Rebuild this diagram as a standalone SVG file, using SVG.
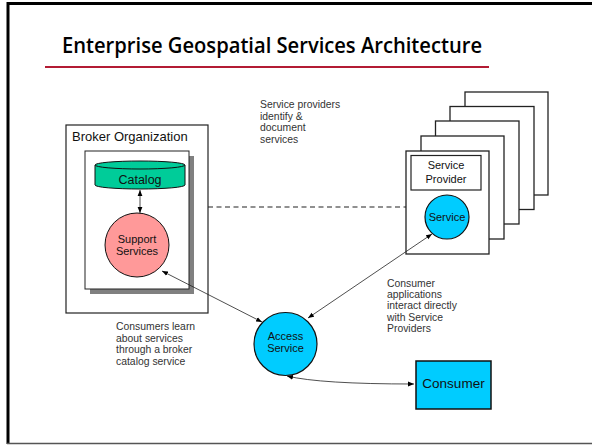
<svg xmlns="http://www.w3.org/2000/svg" width="592" height="445" viewBox="0 0 592 445">
<defs>
<marker id="ah" viewBox="0 0 10 10" refX="10" refY="5" markerWidth="6" markerHeight="6" orient="auto-start-reverse" markerUnits="userSpaceOnUse">
<path d="M0,1 L10,5 L0,9 z" fill="#000"/>
</marker>
<style>
text{font-family:"Liberation Sans",Arial,sans-serif;fill:#111}
.note{font-size:10.4px;fill:#333}
.lbl{font-size:11px;text-anchor:middle}
.page{fill:#fff;stroke:#222;stroke-width:1.3}
.conn{fill:none;stroke:#222;stroke-width:0.8;marker-start:url(#ah);marker-end:url(#ah)}
</style>
</defs>
<rect x="0" y="0" width="592" height="445" fill="#fff"/>
<g id="frame">
<line x1="8" y1="2" x2="8" y2="444" stroke="#000" stroke-width="3"/>
<line x1="7" y1="3.5" x2="592" y2="3.5" stroke="#000" stroke-width="3"/>
<line x1="7" y1="443.5" x2="592" y2="443.5" stroke="#555" stroke-width="1.5"/>
</g>
<g id="title">
<text x="62" y="53" font-size="21.5" textLength="420" lengthAdjust="spacingAndGlyphs" style="fill:#000;font-family:'Open Sans','Liberation Sans',sans-serif;font-weight:600">Enterprise Geospatial Services Architecture</text>
<line x1="45" y1="67" x2="489" y2="67" stroke="#b31b34" stroke-width="2"/>
</g>
<g id="broker">
<rect x="66" y="125" width="142" height="188" fill="#fff" stroke="#222" stroke-width="1.2"/>
<text x="72" y="141" font-size="13">Broker Organization</text>
<rect x="90" y="156" width="104" height="138" fill="#808080"/>
<rect x="85" y="151" width="104" height="138" fill="#fff" stroke="#222" stroke-width="1"/>
</g>
<g id="catalog">
<path d="M95,165 L95,185 A45,4 0 0 0 185,185 L185,165" fill="#00cc99" stroke="#111" stroke-width="1"/>
<ellipse cx="140" cy="165" rx="45" ry="4" fill="#00cc99" stroke="#111" stroke-width="1"/>
<text x="140" y="184" font-size="12.5" text-anchor="middle">Catalog</text>
</g>
<g id="support">
<circle cx="137" cy="245" r="32" fill="#ff9999" stroke="#111" stroke-width="1"/>
<text class="lbl" x="137" y="243">Support</text>
<text class="lbl" x="137" y="255">Services</text>
</g>
<g id="provider">
<rect class="page" x="465" y="92" width="83" height="103"/>
<rect class="page" x="450" y="106.5" width="84" height="103"/>
<rect class="page" x="435.5" y="121" width="83.5" height="103"/>
<rect class="page" x="421" y="136" width="83" height="103"/>
<rect class="page" x="406" y="151" width="83" height="103"/>
<rect x="411" y="155.5" width="70" height="34.5" fill="#fff" stroke="#222" stroke-width="1.2"/>
<text class="lbl" x="446" y="169" font-size="12">Service</text>
<text class="lbl" x="446" y="182.5" font-size="12">Provider</text>
</g>
<g id="service">
<circle cx="447" cy="217" r="22" fill="#00ccff" stroke="#111" stroke-width="1.2"/>
<text class="lbl" x="447" y="221" font-size="11.5">Service</text>
</g>
<g id="access">
<circle cx="285.5" cy="344" r="31.5" fill="#00ccff" stroke="#111" stroke-width="1.2"/>
<text class="lbl" x="285.5" y="340">Access</text>
<text class="lbl" x="285.5" y="352">Service</text>
</g>
<g id="consumer">
<rect x="416" y="361" width="75" height="48" fill="#00ccff" stroke="#111" stroke-width="1.5"/>
<text x="453.5" y="388" font-size="13.5" text-anchor="middle">Consumer</text>
</g>
<g id="connectors">
<line x1="208" y1="207" x2="406" y2="207" stroke="#222" stroke-width="1.2" stroke-dasharray="5,3.5"/>
<line class="conn" x1="140" y1="190" x2="140" y2="213"/>
<line class="conn" x1="162" y1="271" x2="262" y2="322"/>
<line class="conn" x1="308" y1="318" x2="432" y2="234"/>
<path class="conn" d="M287,376 Q320,384 414,384"/>
</g>
<g id="notes">
<text class="note" x="260" y="108">Service providers</text>
<text class="note" x="260" y="119.5">identify &amp;</text>
<text class="note" x="260" y="131">document</text>
<text class="note" x="260" y="142.5">services</text>
<text class="note" x="116" y="330">Consumers learn</text>
<text class="note" x="116" y="341.5">about services</text>
<text class="note" x="116" y="353">through a broker</text>
<text class="note" x="116" y="364.5">catalog service</text>
<text class="note" x="387" y="287">Consumer</text>
<text class="note" x="387" y="298">applications</text>
<text class="note" x="387" y="309">interact directly</text>
<text class="note" x="387" y="320.5">with Service</text>
<text class="note" x="387" y="332">Providers</text>
</g>
</svg>
